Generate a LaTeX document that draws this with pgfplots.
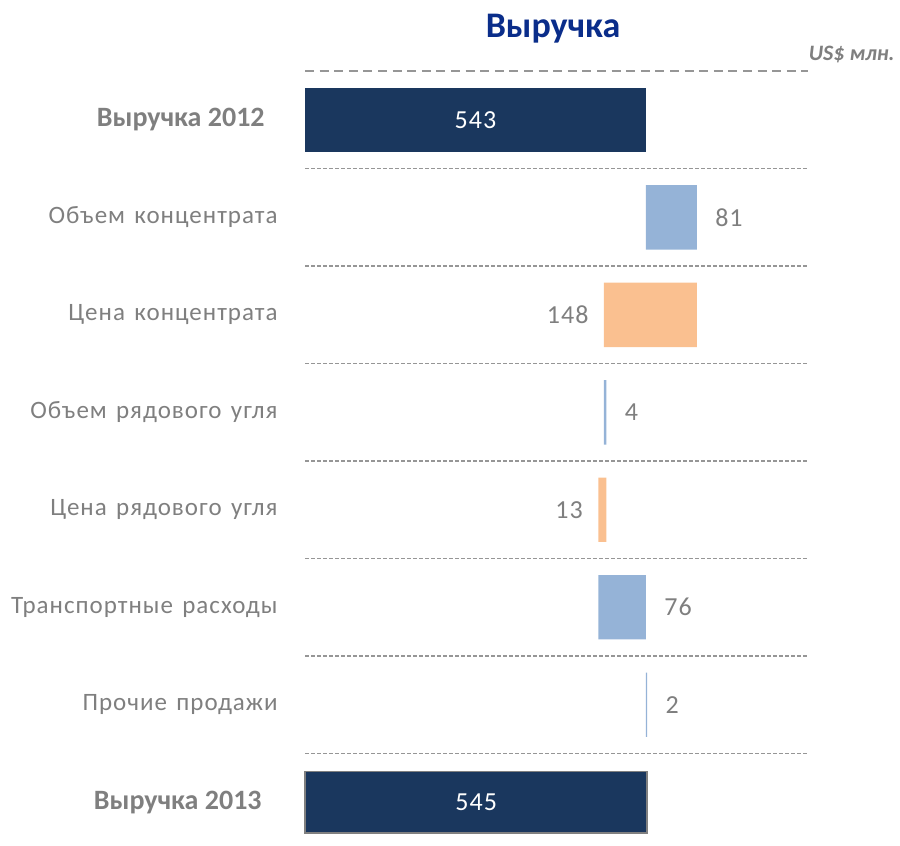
\documentclass[border=0pt]{standalone}
\usepackage{fontspec}
\setmainfont{Carlito}
\newfontfamily\lblfont[LetterSpace=4,WordSpace=1.4]{Carlito}
\usepackage{pgfplots}
\pgfplotsset{compat=1.18}

\definecolor{navy}{HTML}{1A375E}
\definecolor{upblue}{HTML}{95B3D7}
\definecolor{downorange}{HTML}{FAC090}
\definecolor{titleblue}{HTML}{0A2D8A}
\definecolor{txtgray}{HTML}{7F7F7F}
\definecolor{gridgray}{HTML}{969696}

\tikzset{numlbl/.style={font=\lblfont\fontsize{13}{15}\selectfont}}
\pgfplotsset{
  wf/.style={
    at={(152.5pt,-35.6pt)}, anchor=north west,
    scale only axis, width=251.5pt, height=385pt,
    xmin=0, xmax=801, ymin=-0.5, ymax=7.4,
    y dir=reverse, enlargelimits=false,
  },
}

\begin{document}
\begin{tikzpicture}
\path[use as bounding box] (0,0) rectangle (450pt,-423pt);

% floating bars (stacked on an invisible base)
\begin{axis}[wf,
    xbar stacked, bar width=0.66,
    axis line style={draw=none},
    tick style={draw=none},
    xtick=\empty,
    ytick={0,...,7},
    yticklabels={
      {\rmfamily\fontsize{14}{16}\selectfont\bfseries Выручка 2012\hspace*{6.5pt}},
      Объем концентрата,
      Цена концентрата,
      Объем рядового угля,
      Цена рядового угля,
      Транспортные расходы,
      Прочие продажи,
      {\rmfamily\fontsize{14}{16}\selectfont\bfseries Выручка 2013\hspace*{8pt}}},
    yticklabel style={anchor=east, inner sep=0pt, xshift=-13.5pt,
      font=\lblfont\fontsize{12.5}{14}\selectfont, text=txtgray},
    minor ytick={0.5,1.5,...,6.5},
    yminorgrids,
    minor grid style={gridgray, line width=0.75pt, dash pattern=on 2pt off 1pt},
    extra y ticks={-0.5},
    extra y tick labels={},
    extra y tick style={grid=major,
      major grid style={gridgray, line width=1pt, dash pattern=on 4.5pt off 2.8pt}},
  ]
  % base
  \addplot[draw=none, fill=none] coordinates {
    (0,0) (543,1) (476,2) (476,3) (467,4) (467,5) (543,6) (0,7)};
  % increases
  \addplot[draw=none, fill=upblue] coordinates {
    (0,0) (81,1) (0,2) (4,3) (0,4) (76,5) (2,6) (0,7)};
  % decreases
  \addplot[draw=none, fill=downorange] coordinates {
    (0,0) (0,1) (148,2) (0,3) (13,4) (0,5) (0,6) (0,7)};
\end{axis}

% totals and value labels
\begin{axis}[wf, hide axis, clip=false]
  \addplot[xbar, bar width=0.66, draw=none, fill=navy] coordinates {(543,0)};
  \addplot[xbar, bar width=0.63, draw=gray, line width=0.8pt, fill=navy] coordinates {(545,7)};
  % labels inside totals
  \addplot[draw=none, nodes near coords, point meta=explicit symbolic,
    every node near coord/.append style={anchor=center, inner sep=0pt, text=white, numlbl}]
    coordinates {(271.5,0)[543] (272.5,7)[545]};
  % labels right of increases
  \addplot[draw=none, nodes near coords, point meta=explicit symbolic,
    every node near coord/.append style={anchor=west, inner sep=0pt, xshift=9pt,
      text=txtgray, numlbl}]
    coordinates {(624,1)[81] (480,3)[4] (543,5)[76] (545,6)[2]};
  % labels left of decreases
  \addplot[draw=none, nodes near coords, point meta=explicit symbolic,
    every node near coord/.append style={anchor=east, inner sep=0pt, xshift=-7.5pt,
      text=txtgray, numlbl}]
    coordinates {(476,2)[148] (467,4)[13]};
\end{axis}

\node[anchor=base, inner sep=0pt, text=titleblue, font=\fontsize{18}{20}\selectfont\bfseries]
  at (276.5pt,-18.5pt) {Выручка};
\node[anchor=base east, inner sep=0pt, text=txtgray, font=\fontsize{11}{13}\selectfont\bfseries\itshape]
  at (447.5pt,-30pt) {US\$ млн.};
\end{tikzpicture}
\end{document}
